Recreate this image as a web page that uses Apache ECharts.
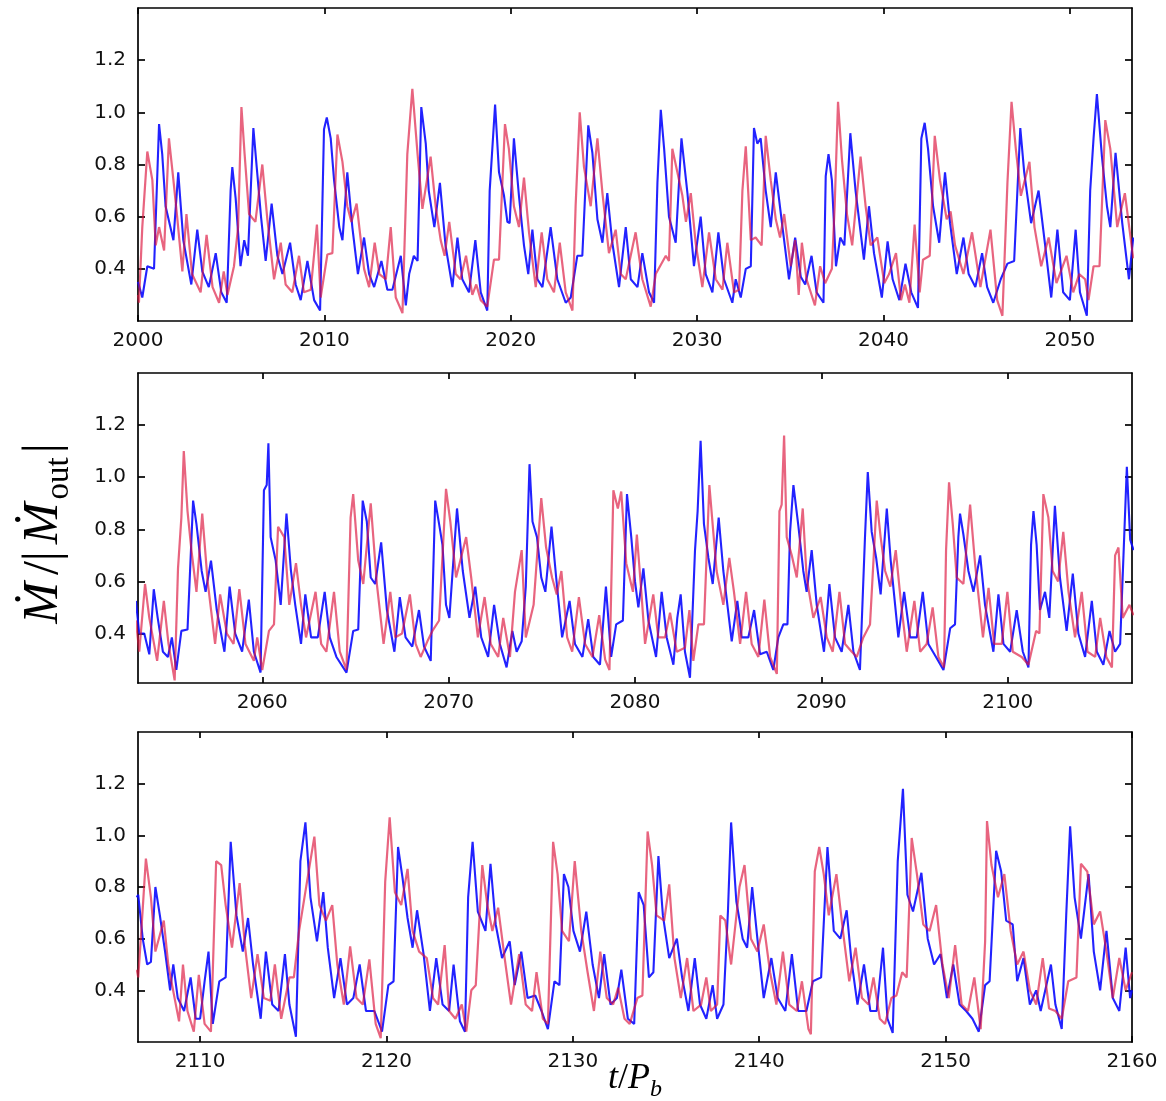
<!DOCTYPE html>
<html>
<head>
<meta charset="utf-8">
<script src="https://cdn.jsdelivr.net/npm/echarts@6/dist/echarts.min.js"></script>
<style>
  html, body { margin: 0; padding: 0; background: #fff; }
  #chart { width: 1166px; height: 1101px; }
</style>
</head>
<body>
<div id="chart"></div>
<script>
// Accretion rate onto the two stars, Mdot / |Mdot_out|, versus time in binary orbits.
// Each panel covers one third of the run; samples are [t/P_b, rate].

const blue1 = [
  [2000.0,0.35],[2000.23,0.29],[2000.5,0.41],[2000.86,0.40],[2001.13,0.955],[2001.3,0.84],[2001.48,0.64],
  [2001.9,0.51],[2002.16,0.77],[2002.43,0.51],[2002.86,0.34],[2003.18,0.55],[2003.45,0.39],[2003.8,0.33],
  [2004.17,0.46],[2004.47,0.31],[2004.76,0.27],[2004.97,0.70],[2005.06,0.79],[2005.24,0.67],[2005.5,0.41],
  [2005.7,0.51],[2005.9,0.45],[2006.19,0.94],[2006.37,0.79],[2006.6,0.60],[2006.85,0.43],[2007.17,0.65],
  [2007.48,0.45],[2007.75,0.38],[2008.16,0.50],[2008.46,0.34],[2008.73,0.28],[2009.09,0.43],[2009.45,0.28],
  [2009.77,0.24],[2009.98,0.935],[2010.13,0.98],[2010.34,0.90],[2010.52,0.74],[2010.8,0.56],[2010.97,0.51],
  [2011.23,0.77],[2011.5,0.56],[2011.8,0.38],[2012.13,0.52],[2012.4,0.38],[2012.67,0.33],[2013.06,0.43],
  [2013.38,0.32],[2013.65,0.32],[2014.1,0.45],[2014.37,0.26],[2014.55,0.38],[2014.8,0.45],[2015.0,0.43],
  [2015.2,1.02],[2015.44,0.88],[2015.6,0.70],[2015.9,0.56],[2016.2,0.73],[2016.5,0.49],[2016.87,0.33],
  [2017.14,0.52],[2017.4,0.36],[2017.76,0.31],[2018.1,0.51],[2018.39,0.31],[2018.74,0.24],[2018.87,0.70],
  [2019.16,1.03],[2019.37,0.77],[2019.64,0.68],[2019.82,0.58],[2019.94,0.575],[2020.17,0.90],[2020.44,0.68],
  [2020.71,0.49],[2020.94,0.38],[2021.16,0.55],[2021.43,0.36],[2021.7,0.33],[2022.14,0.56],[2022.5,0.36],
  [2022.95,0.27],[2023.22,0.29],[2023.57,0.45],[2023.84,0.45],[2024.16,0.95],[2024.38,0.845],[2024.65,0.59],
  [2024.92,0.50],[2025.18,0.69],[2025.45,0.50],[2025.81,0.33],[2026.17,0.56],[2026.44,0.36],[2026.8,0.33],
  [2027.06,0.46],[2027.42,0.31],[2027.69,0.27],[2027.87,0.73],[2028.05,1.01],[2028.23,0.86],[2028.49,0.60],
  [2028.85,0.50],[2029.16,0.90],[2029.48,0.69],[2029.83,0.41],[2030.19,0.60],[2030.46,0.38],[2030.82,0.31],
  [2031.14,0.54],[2031.44,0.36],[2031.89,0.27],[2032.07,0.36],[2032.34,0.29],[2032.61,0.40],[2032.88,0.41],
  [2033.05,0.94],[2033.23,0.88],[2033.41,0.90],[2033.68,0.70],[2033.95,0.56],[2034.22,0.77],[2034.58,0.56],
  [2034.93,0.36],[2035.26,0.52],[2035.56,0.37],[2035.8,0.34],[2036.14,0.45],[2036.41,0.31],[2036.78,0.27],
  [2036.9,0.755],[2037.05,0.84],[2037.23,0.74],[2037.45,0.41],[2037.68,0.52],[2037.9,0.49],[2038.22,0.92],
  [2038.5,0.70],[2038.95,0.435],[2039.22,0.64],[2039.49,0.46],[2039.91,0.29],[2040.22,0.505],[2040.49,0.36],
  [2040.85,0.28],[2041.18,0.42],[2041.49,0.31],[2041.85,0.25],[2042.03,0.90],[2042.21,0.96],[2042.39,0.86],
  [2042.66,0.64],[2042.99,0.50],[2043.3,0.77],[2043.57,0.575],[2043.93,0.38],[2044.29,0.52],[2044.57,0.38],
  [2044.93,0.33],[2045.29,0.46],[2045.56,0.33],[2045.89,0.27],[2046.29,0.36],[2046.65,0.42],[2047.01,0.43],
  [2047.34,0.94],[2047.55,0.77],[2047.92,0.575],[2048.32,0.70],[2048.64,0.51],[2049.0,0.29],[2049.33,0.55],
  [2049.64,0.31],[2050.0,0.28],[2050.31,0.55],[2050.54,0.31],[2050.91,0.22],[2051.09,0.70],[2051.27,0.90],
  [2051.45,1.07],[2051.72,0.83],[2051.99,0.64],[2052.17,0.56],[2052.45,0.845],[2052.81,0.575],[2053.17,0.36],
  [2053.4,0.52]
];

const red1 = [
  [2000.0,0.30],[2000.05,0.27],[2000.23,0.56],[2000.5,0.85],[2000.77,0.74],[2000.95,0.49],[2001.13,0.56],
  [2001.4,0.47],[2001.66,0.90],[2001.9,0.74],[2002.1,0.60],[2002.38,0.39],[2002.6,0.61],[2002.9,0.38],
  [2003.36,0.31],[2003.68,0.53],[2004.0,0.33],[2004.35,0.27],[2004.6,0.39],[2004.8,0.30],[2005.15,0.41],
  [2005.37,0.56],[2005.55,1.02],[2005.72,0.84],[2005.96,0.61],[2006.3,0.58],[2006.67,0.80],[2006.94,0.59],
  [2007.3,0.36],[2007.66,0.50],[2007.92,0.34],[2008.28,0.31],[2008.64,0.45],[2008.9,0.31],[2009.27,0.32],
  [2009.6,0.57],[2009.8,0.29],[2010.16,0.455],[2010.43,0.46],[2010.7,0.915],[2010.97,0.81],[2011.23,0.64],
  [2011.45,0.58],[2011.73,0.65],[2012.13,0.40],[2012.4,0.33],[2012.7,0.50],[2012.95,0.38],[2013.3,0.36],
  [2013.56,0.56],[2013.83,0.29],[2014.19,0.23],[2014.45,0.84],[2014.72,1.09],[2015.0,0.84],[2015.26,0.63],
  [2015.7,0.83],[2015.97,0.64],[2016.24,0.51],[2016.45,0.45],[2016.7,0.58],[2017.05,0.38],[2017.3,0.36],
  [2017.6,0.45],[2017.94,0.30],[2018.15,0.34],[2018.39,0.28],[2018.74,0.255],[2019.1,0.435],[2019.37,0.435],
  [2019.69,0.955],[2019.9,0.86],[2020.17,0.64],[2020.44,0.56],[2020.71,0.75],[2020.98,0.54],[2021.34,0.33],
  [2021.66,0.54],[2021.96,0.36],[2022.32,0.31],[2022.63,0.50],[2022.95,0.31],[2023.31,0.24],[2023.48,0.64],
  [2023.7,1.0],[2023.93,0.79],[2024.29,0.64],[2024.65,0.90],[2024.92,0.69],[2025.27,0.46],[2025.63,0.55],
  [2025.9,0.38],[2026.17,0.36],[2026.7,0.54],[2027.06,0.36],[2027.51,0.255],[2027.78,0.38],[2028.32,0.45],
  [2028.49,0.43],[2028.67,0.86],[2028.94,0.77],[2029.21,0.68],[2029.4,0.58],[2029.66,0.69],[2029.92,0.50],
  [2030.28,0.33],[2030.64,0.54],[2031.0,0.36],[2031.36,0.32],[2031.62,0.50],[2031.98,0.31],[2032.25,0.32],
  [2032.43,0.70],[2032.61,0.87],[2032.88,0.51],[2033.14,0.52],[2033.46,0.49],[2033.68,0.91],[2033.95,0.74],
  [2034.22,0.59],[2034.45,0.52],[2034.67,0.61],[2035.02,0.41],[2035.26,0.51],[2035.45,0.30],[2035.62,0.50],
  [2035.87,0.36],[2036.32,0.26],[2036.6,0.41],[2036.87,0.345],[2037.23,0.40],[2037.38,0.64],[2037.56,1.04],
  [2037.77,0.82],[2038.04,0.61],[2038.32,0.49],[2038.77,0.83],[2039.04,0.64],[2039.31,0.49],[2039.67,0.52],
  [2040.04,0.345],[2040.3,0.38],[2040.67,0.46],[2040.94,0.28],[2041.15,0.34],[2041.39,0.27],[2041.67,0.57],
  [2041.94,0.31],[2042.12,0.435],[2042.48,0.45],[2042.75,0.91],[2043.03,0.74],[2043.39,0.59],[2043.6,0.62],
  [2043.84,0.49],[2044.29,0.38],[2044.75,0.54],[2045.2,0.33],[2045.74,0.55],[2046.1,0.28],[2046.38,0.22],
  [2046.65,0.73],[2046.87,1.04],[2047.1,0.86],[2047.37,0.68],[2047.83,0.81],[2048.1,0.56],[2048.46,0.41],
  [2048.86,0.52],[2049.28,0.345],[2049.82,0.45],[2050.18,0.31],[2050.5,0.38],[2050.82,0.36],[2051.0,0.28],
  [2051.27,0.41],[2051.59,0.41],[2051.9,0.97],[2052.17,0.86],[2052.54,0.56],[2052.95,0.69],[2053.4,0.44]
];

const blue2 = [
  [2053.22,0.525],[2053.4,0.40],[2053.67,0.40],[2053.94,0.32],[2054.18,0.57],[2054.39,0.46],[2054.67,0.33],
  [2054.94,0.31],[2055.15,0.385],[2055.39,0.26],[2055.66,0.41],[2055.99,0.415],[2056.29,0.91],[2056.47,0.82],
  [2056.75,0.64],[2056.96,0.56],[2057.25,0.68],[2057.56,0.49],[2057.97,0.33],[2058.25,0.58],[2058.55,0.40],
  [2058.92,0.33],[2059.28,0.53],[2059.55,0.33],[2059.91,0.25],[2060.09,0.95],[2060.24,0.97],[2060.33,1.13],
  [2060.45,0.77],[2060.72,0.68],[2060.99,0.51],[2061.3,0.86],[2061.54,0.64],[2061.77,0.51],[2062.08,0.36],
  [2062.31,0.55],[2062.62,0.385],[2062.98,0.385],[2063.35,0.56],[2063.62,0.385],[2063.98,0.31],[2064.52,0.25],
  [2064.88,0.41],[2065.15,0.415],[2065.39,0.91],[2065.61,0.83],[2065.82,0.615],[2066.06,0.59],[2066.38,0.75],
  [2066.69,0.49],[2067.09,0.33],[2067.38,0.54],[2067.69,0.385],[2068.05,0.35],[2068.41,0.49],[2068.68,0.35],
  [2069.04,0.295],[2069.28,0.91],[2069.49,0.82],[2069.67,0.74],[2069.86,0.51],[2070.04,0.46],[2070.45,0.88],
  [2070.76,0.64],[2071.12,0.46],[2071.43,0.58],[2071.75,0.385],[2072.12,0.31],[2072.44,0.51],[2072.75,0.36],
  [2073.11,0.27],[2073.42,0.41],[2073.65,0.33],[2073.92,0.37],[2074.14,0.58],[2074.34,1.05],[2074.5,0.83],
  [2074.74,0.77],[2074.97,0.615],[2075.19,0.56],[2075.52,0.81],[2075.77,0.615],[2076.09,0.385],[2076.49,0.525],
  [2076.78,0.36],[2077.18,0.31],[2077.49,0.455],[2077.76,0.31],[2078.12,0.28],[2078.44,0.58],[2078.72,0.31],
  [2078.99,0.435],[2079.35,0.45],[2079.57,0.935],[2079.8,0.77],[2080.0,0.60],[2080.18,0.50],[2080.45,0.65],
  [2080.72,0.45],[2081.13,0.31],[2081.43,0.56],[2081.7,0.385],[2082.06,0.28],[2082.27,0.46],[2082.45,0.55],
  [2082.68,0.33],[2082.95,0.23],[2083.22,0.72],[2083.36,0.87],[2083.52,1.14],[2083.7,0.82],[2083.94,0.69],
  [2084.17,0.59],[2084.49,0.845],[2084.74,0.64],[2085.19,0.37],[2085.49,0.525],[2085.72,0.385],[2086.08,0.385],
  [2086.39,0.49],[2086.71,0.32],[2087.07,0.33],[2087.42,0.26],[2087.69,0.385],[2087.96,0.435],[2088.18,0.435],
  [2088.32,0.79],[2088.5,0.97],[2088.77,0.81],[2089.03,0.64],[2089.21,0.56],[2089.48,0.72],[2089.75,0.51],
  [2090.14,0.33],[2090.43,0.59],[2090.73,0.385],[2091.09,0.33],[2091.45,0.51],[2091.72,0.33],[2092.07,0.26],
  [2092.34,0.77],[2092.49,1.02],[2092.7,0.79],[2092.94,0.69],[2093.18,0.55],[2093.51,0.88],[2093.72,0.68],
  [2094.13,0.385],[2094.44,0.56],[2094.76,0.385],[2095.12,0.385],[2095.44,0.56],[2095.74,0.36],[2096.15,0.31],
  [2096.55,0.26],[2096.91,0.42],[2097.17,0.435],[2097.35,0.77],[2097.44,0.86],[2097.62,0.78],[2097.89,0.64],
  [2098.16,0.56],[2098.52,0.70],[2098.78,0.51],[2099.23,0.33],[2099.5,0.55],[2099.77,0.36],[2100.13,0.33],
  [2100.48,0.49],[2100.81,0.33],[2101.11,0.27],[2101.25,0.74],[2101.38,0.87],[2101.55,0.74],[2101.73,0.49],
  [2102.0,0.56],[2102.23,0.46],[2102.53,0.89],[2102.8,0.615],[2103.16,0.41],[2103.49,0.63],[2103.79,0.40],
  [2104.15,0.31],[2104.51,0.525],[2104.78,0.33],[2105.13,0.28],[2105.46,0.41],[2105.76,0.33],[2106.03,0.36],
  [2106.21,0.70],[2106.39,1.04],[2106.57,0.76],[2106.75,0.72]
];

const red2 = [
  [2053.22,0.45],[2053.4,0.33],[2053.71,0.59],[2053.94,0.46],[2054.36,0.295],[2054.72,0.525],[2054.97,0.36],
  [2055.3,0.22],[2055.48,0.65],[2055.66,0.845],[2055.79,1.10],[2055.99,0.87],[2056.2,0.72],[2056.47,0.56],
  [2056.78,0.86],[2057.07,0.60],[2057.47,0.36],[2057.74,0.55],[2058.1,0.40],[2058.46,0.36],[2058.77,0.57],
  [2059.1,0.36],[2059.55,0.295],[2059.73,0.385],[2060.0,0.26],[2060.36,0.41],[2060.63,0.435],[2060.85,0.81],
  [2061.18,0.77],[2061.45,0.51],[2061.81,0.67],[2062.08,0.51],[2062.35,0.385],[2062.86,0.56],[2063.16,0.36],
  [2063.44,0.33],[2063.85,0.56],[2064.16,0.33],[2064.52,0.26],[2064.74,0.845],[2064.88,0.935],[2065.15,0.68],
  [2065.42,0.59],[2065.82,0.90],[2066.15,0.59],[2066.51,0.36],[2066.87,0.56],[2067.14,0.385],[2067.5,0.40],
  [2067.92,0.55],[2068.23,0.36],[2068.5,0.31],[2068.86,0.37],[2069.13,0.41],[2069.49,0.45],[2069.86,0.955],
  [2070.09,0.83],[2070.4,0.615],[2070.94,0.77],[2071.21,0.615],[2071.57,0.385],[2071.93,0.54],[2072.26,0.36],
  [2072.66,0.31],[2072.93,0.46],[2073.29,0.31],[2073.56,0.56],[2073.92,0.72],[2074.14,0.385],[2074.56,0.51],
  [2074.97,0.92],[2075.23,0.73],[2075.55,0.615],[2075.8,0.55],[2076.05,0.64],[2076.36,0.385],[2076.63,0.33],
  [2076.99,0.54],[2077.32,0.36],[2077.72,0.31],[2078.08,0.47],[2078.4,0.30],[2078.63,0.26],[2078.84,0.95],
  [2079.08,0.88],[2079.26,0.945],[2079.53,0.67],[2079.89,0.56],[2080.1,0.78],[2080.35,0.55],[2080.54,0.36],
  [2080.98,0.55],[2081.25,0.385],[2081.61,0.385],[2081.88,0.48],[2082.24,0.33],[2082.68,0.345],[2082.92,0.49],
  [2083.13,0.295],[2083.4,0.435],[2083.7,0.435],[2083.99,0.97],[2084.2,0.79],[2084.38,0.64],[2084.74,0.51],
  [2085.06,0.69],[2085.31,0.56],[2085.64,0.36],[2085.96,0.56],[2086.26,0.36],[2086.62,0.31],[2086.94,0.53],
  [2087.25,0.31],[2087.61,0.245],[2087.75,0.87],[2087.87,0.895],[2088.0,1.16],[2088.14,0.77],[2088.41,0.70],
  [2088.68,0.615],[2089.0,0.88],[2089.21,0.615],[2089.57,0.46],[2089.96,0.54],[2090.29,0.385],[2090.61,0.33],
  [2090.97,0.56],[2091.27,0.36],[2091.63,0.33],[2091.9,0.31],[2092.25,0.385],[2092.61,0.435],[2092.97,0.91],
  [2093.18,0.77],[2093.42,0.64],[2093.7,0.58],[2093.99,0.72],[2094.26,0.525],[2094.58,0.33],[2094.99,0.525],
  [2095.3,0.33],[2095.65,0.36],[2095.97,0.50],[2096.28,0.31],[2096.58,0.27],[2096.69,0.72],[2096.85,0.98],
  [2097.05,0.82],[2097.26,0.615],[2097.62,0.59],[2097.98,0.895],[2098.25,0.665],[2098.67,0.385],[2098.97,0.575],
  [2099.27,0.36],[2099.68,0.36],[2099.98,0.56],[2100.27,0.33],[2100.75,0.31],[2101.11,0.28],[2101.52,0.41],
  [2101.7,0.40],[2101.91,0.935],[2102.18,0.845],[2102.41,0.64],[2102.7,0.60],[2102.98,0.79],[2103.26,0.56],
  [2103.61,0.385],[2103.97,0.56],[2104.28,0.33],[2104.69,0.31],[2104.96,0.46],[2105.29,0.31],[2105.59,0.27],
  [2105.76,0.70],[2105.94,0.73],[2106.17,0.46],[2106.53,0.51],[2106.75,0.47]
];

const blue3 = [
  [2106.6,0.76],[2106.68,0.77],[2106.92,0.60],[2107.16,0.50],[2107.36,0.51],[2107.6,0.80],[2107.84,0.69],
  [2108.12,0.55],[2108.39,0.40],[2108.56,0.50],[2108.8,0.37],[2109.14,0.32],[2109.49,0.45],[2109.76,0.29],
  [2110.0,0.29],[2110.24,0.435],[2110.45,0.55],[2110.68,0.27],[2111.03,0.435],[2111.37,0.45],[2111.64,0.975],
  [2111.95,0.69],[2112.29,0.55],[2112.57,0.68],[2112.84,0.50],[2113.25,0.29],[2113.53,0.55],[2113.87,0.345],
  [2114.21,0.32],[2114.55,0.54],[2114.79,0.345],[2115.14,0.22],[2115.38,0.90],[2115.65,1.05],[2115.92,0.76],
  [2116.27,0.59],[2116.61,0.78],[2116.85,0.565],[2117.19,0.37],[2117.53,0.525],[2117.88,0.345],[2118.22,0.37],
  [2118.56,0.50],[2118.9,0.32],[2119.35,0.32],[2119.76,0.24],[2120.1,0.42],[2120.38,0.435],[2120.62,0.955],
  [2120.86,0.835],[2121.13,0.68],[2121.4,0.565],[2121.64,0.71],[2121.99,0.54],[2122.33,0.32],[2122.67,0.525],
  [2123.01,0.345],[2123.36,0.32],[2123.6,0.50],[2123.94,0.28],[2124.21,0.24],[2124.38,0.76],[2124.62,0.975],
  [2124.9,0.705],[2125.31,0.63],[2125.58,0.89],[2125.86,0.655],[2126.2,0.525],[2126.61,0.59],[2126.88,0.42],
  [2127.23,0.55],[2127.57,0.37],[2127.98,0.38],[2128.32,0.32],[2128.66,0.25],[2129.01,0.435],[2129.28,0.42],
  [2129.52,0.85],[2129.76,0.80],[2130.03,0.63],[2130.38,0.55],[2130.72,0.705],[2131.06,0.50],[2131.4,0.37],
  [2131.68,0.54],[2132.02,0.345],[2132.36,0.37],[2132.6,0.48],[2132.95,0.29],[2133.29,0.27],[2133.53,0.78],
  [2133.8,0.73],[2134.08,0.45],[2134.32,0.47],[2134.59,0.92],[2134.83,0.69],[2135.17,0.525],[2135.58,0.60],
  [2135.86,0.45],[2136.2,0.32],[2136.54,0.525],[2136.82,0.345],[2137.16,0.29],[2137.5,0.42],[2137.74,0.29],
  [2138.08,0.345],[2138.32,0.705],[2138.49,1.05],[2138.77,0.745],[2139.11,0.60],[2139.35,0.565],[2139.62,0.80],
  [2139.9,0.60],[2140.24,0.37],[2140.65,0.525],[2140.99,0.37],[2141.4,0.32],[2141.75,0.54],[2142.09,0.32],
  [2142.53,0.32],[2142.88,0.435],[2143.32,0.45],[2143.66,0.955],[2144.0,0.63],[2144.35,0.60],[2144.69,0.71],
  [2144.93,0.525],[2145.27,0.345],[2145.62,0.50],[2145.96,0.32],[2146.3,0.32],[2146.64,0.565],[2146.88,0.29],
  [2147.16,0.235],[2147.43,0.90],[2147.71,1.18],[2147.95,0.77],[2148.25,0.705],[2148.7,0.855],[2149.04,0.60],
  [2149.38,0.50],[2149.73,0.54],[2150.07,0.37],[2150.41,0.50],[2150.75,0.345],[2151.1,0.32],[2151.44,0.29],
  [2151.78,0.24],[2152.12,0.42],[2152.36,0.435],[2152.71,0.94],[2152.98,0.86],[2153.25,0.67],[2153.6,0.655],
  [2153.84,0.435],[2154.18,0.525],[2154.52,0.345],[2154.86,0.40],[2155.1,0.32],[2155.65,0.50],[2155.89,0.345],
  [2156.23,0.25],[2156.47,0.69],[2156.68,1.035],[2156.92,0.76],[2157.26,0.60],[2157.67,0.85],[2157.95,0.55],
  [2158.29,0.40],[2158.63,0.63],[2158.97,0.37],[2159.32,0.32],[2159.66,0.565],[2159.9,0.37],[2160.0,0.40]
];

const red3 = [
  [2106.6,0.48],[2106.68,0.45],[2106.88,0.67],[2107.09,0.91],[2107.36,0.76],[2107.6,0.55],[2108.05,0.67],
  [2108.29,0.50],[2108.63,0.37],[2108.87,0.28],[2109.08,0.50],[2109.32,0.32],[2109.66,0.24],[2109.93,0.46],
  [2110.24,0.27],[2110.58,0.24],[2110.86,0.90],[2111.13,0.885],[2111.37,0.73],[2111.71,0.565],[2112.12,0.815],
  [2112.4,0.575],[2112.74,0.37],[2113.08,0.54],[2113.42,0.37],[2113.77,0.36],[2114.01,0.50],[2114.35,0.29],
  [2114.79,0.45],[2115.03,0.45],[2115.31,0.63],[2115.8,0.85],[2116.13,0.995],[2116.4,0.73],[2116.75,0.67],
  [2117.09,0.73],[2117.36,0.50],[2117.71,0.345],[2118.05,0.57],[2118.39,0.37],[2118.73,0.345],[2119.08,0.52],
  [2119.42,0.27],[2119.69,0.215],[2119.93,0.82],[2120.17,1.07],[2120.45,0.78],[2120.79,0.73],[2121.13,0.87],
  [2121.4,0.63],[2121.75,0.55],[2122.16,0.525],[2122.5,0.37],[2122.77,0.345],[2123.12,0.575],[2123.36,0.32],
  [2123.7,0.29],[2124.04,0.345],[2124.28,0.24],[2124.55,0.40],[2124.79,0.42],[2125.14,0.885],[2125.41,0.73],
  [2125.68,0.63],[2125.99,0.72],[2126.34,0.525],[2126.68,0.345],[2127.12,0.54],[2127.47,0.345],[2127.81,0.32],
  [2128.05,0.47],[2128.39,0.29],[2128.66,0.27],[2128.94,0.975],[2129.18,0.85],[2129.42,0.63],[2129.79,0.59],
  [2130.1,0.90],[2130.45,0.63],[2130.79,0.47],[2131.13,0.32],[2131.47,0.55],[2131.82,0.37],[2132.16,0.345],
  [2132.43,0.41],[2132.77,0.29],[2133.05,0.27],[2133.46,0.37],[2133.73,0.38],[2134.01,1.015],[2134.25,0.885],
  [2134.49,0.69],[2134.9,0.67],[2135.17,0.81],[2135.45,0.525],[2135.79,0.37],[2136.13,0.525],[2136.47,0.32],
  [2136.88,0.345],[2137.16,0.45],[2137.4,0.32],[2137.74,0.345],[2137.91,0.69],[2138.18,0.67],[2138.49,0.50],
  [2138.94,0.80],[2139.21,0.885],[2139.55,0.60],[2139.9,0.55],[2140.24,0.655],[2140.58,0.47],[2140.92,0.345],
  [2141.27,0.55],[2141.61,0.345],[2142.02,0.32],[2142.29,0.435],[2142.64,0.25],[2142.77,0.23],[2142.98,0.86],
  [2143.22,0.955],[2143.46,0.85],[2143.73,0.69],[2144.14,0.85],[2144.49,0.63],[2144.83,0.435],[2145.17,0.565],
  [2145.51,0.37],[2145.86,0.345],[2146.13,0.45],[2146.47,0.29],[2146.75,0.27],[2147.09,0.37],[2147.36,0.38],
  [2147.67,0.47],[2147.91,0.45],[2148.18,0.99],[2148.46,0.85],[2148.8,0.655],[2149.14,0.63],[2149.49,0.73],
  [2149.83,0.50],[2150.17,0.37],[2150.51,0.575],[2150.86,0.345],[2151.2,0.32],[2151.54,0.45],[2151.88,0.25],
  [2152.12,0.59],[2152.22,1.055],[2152.46,0.885],[2152.81,0.76],[2153.15,0.85],[2153.49,0.63],[2153.84,0.50],
  [2154.18,0.55],[2154.52,0.40],[2154.86,0.345],[2155.21,0.525],[2155.55,0.33],[2155.89,0.32],[2156.23,0.29],
  [2156.58,0.435],[2157.02,0.45],[2157.26,0.89],[2157.6,0.86],[2157.95,0.655],[2158.29,0.705],[2158.63,0.55],
  [2158.97,0.37],[2159.32,0.525],[2159.66,0.40],[2159.9,0.45],[2160.0,0.47]
];

const panelX = [[2000, 2053.3333], [2053.3333, 2106.6667], [2106.6667, 2160]];
const panelY = [[0.2, 1.4], [0.21, 1.4], [0.2, 1.4]];
const xTickValues = [
  [2000, 2010, 2020, 2030, 2040, 2050],
  [2060, 2070, 2080, 2090, 2100],
  [2110, 2120, 2130, 2140, 2150, 2160]
];
const yTickValues = [0.4, 0.6, 0.8, 1.0, 1.2];
const blueSets = [blue1, blue2, blue3];
const redSets = [red1, red2, red3];

const gridTops = [8, 373, 732];
const gridHeights = [313, 310, 310];
const LEFT = 138, WIDTH = 994;
const labelFont = { fontFamily: 'DejaVu Sans', fontSize: 20, color: '#111' };
const lineStyleAxis = { color: '#000', width: 1.7 };

const grid = [], xAxis = [], yAxis = [], series = [];
for (let p = 0; p < 3; p++) {
  grid.push({ left: LEFT, top: gridTops[p], width: WIDTH, height: gridHeights[p], containLabel: false });
  // bottom axis with labels, top axis with ticks only
  xAxis.push({
    type: 'value', gridIndex: p, position: 'bottom', min: panelX[p][0], max: panelX[p][1],
    axisLine: { show: true, onZero: false, lineStyle: lineStyleAxis },
    axisTick: { show: true, inside: true, length: 6, customValues: xTickValues[p], lineStyle: lineStyleAxis },
    axisLabel: { show: true, margin: 10, customValues: xTickValues[p], showMinLabel: true, showMaxLabel: true,
                 formatter: v => String(Math.round(v)), ...labelFont },
    splitLine: { show: false }
  });
  xAxis.push({
    type: 'value', gridIndex: p, position: 'top', min: panelX[p][0], max: panelX[p][1],
    axisLine: { show: true, onZero: false, lineStyle: lineStyleAxis },
    axisTick: { show: true, inside: true, length: 6, customValues: xTickValues[p], lineStyle: lineStyleAxis },
    axisLabel: { show: false },
    splitLine: { show: false }
  });
  yAxis.push({
    type: 'value', gridIndex: p, position: 'left', min: panelY[p][0], max: panelY[p][1],
    axisLine: { show: true, onZero: false, lineStyle: lineStyleAxis },
    axisTick: { show: true, inside: true, length: 7, customValues: yTickValues, lineStyle: lineStyleAxis },
    axisLabel: { show: true, margin: 12, customValues: yTickValues, formatter: v => v.toFixed(1), ...labelFont },
    splitLine: { show: false }
  });
  yAxis.push({
    type: 'value', gridIndex: p, position: 'right', min: panelY[p][0], max: panelY[p][1],
    axisLine: { show: true, onZero: false, lineStyle: lineStyleAxis },
    axisTick: { show: true, inside: true, length: 7, customValues: yTickValues, lineStyle: lineStyleAxis },
    axisLabel: { show: false },
    splitLine: { show: false }
  });
  series.push({
    type: 'line', xAxisIndex: 2 * p, yAxisIndex: 2 * p, data: blueSets[p],
    showSymbol: false, clip: true, silent: true,
    lineStyle: { color: '#0a0aff', width: 2.1, opacity: 0.9 }, z: 2
  });
  series.push({
    type: 'line', xAxisIndex: 2 * p, yAxisIndex: 2 * p, data: redSets[p],
    showSymbol: false, clip: true, silent: true,
    lineStyle: { color: '#dc143c', width: 2.2, opacity: 0.66 }, z: 3
  });
}

const chart = echarts.init(document.getElementById('chart'), null, { renderer: 'canvas' });
chart.setOption({
  animation: false,
  backgroundColor: '#fff',
  grid, xAxis, yAxis, series,
  graphic: [
    {
      type: 'text', x: 44, y: 533, rotation: Math.PI / 2,
      style: {
        text: '{m|Ṁ}{r|/|}{m|Ṁ}{s|out}{r||}',
        align: 'center', verticalAlign: 'middle',
        rich: {
          m: { fontFamily: 'Liberation Serif', fontStyle: 'italic', fontSize: 50, lineHeight: 64, verticalAlign: 'middle', fill: '#000', padding: [0, 3, 0, 3] },
          r: { fontFamily: 'Liberation Serif', fontSize: 50, lineHeight: 64, verticalAlign: 'middle', fill: '#000', padding: [0, 4, 0, 4] },
          s: { fontFamily: 'Liberation Serif', fontSize: 33, lineHeight: 33, verticalAlign: 'bottom', fill: '#000' }
        }
      }
    },
    {
      type: 'text', x: 635, y: 1079,
      style: {
        text: '{i|t}{r|/}{i|P}{s|b}',
        align: 'center', verticalAlign: 'middle',
        rich: {
          i: { fontFamily: 'Liberation Serif', fontStyle: 'italic', fontSize: 36, lineHeight: 46, verticalAlign: 'middle', fill: '#000' },
          r: { fontFamily: 'Liberation Serif', fontSize: 36, lineHeight: 46, verticalAlign: 'middle', fill: '#000' },
          s: { fontFamily: 'Liberation Serif', fontStyle: 'italic', fontSize: 24, lineHeight: 24, verticalAlign: 'bottom', fill: '#000' }
        }
      }
    }
  ]
});
</script>
</body>
</html>
